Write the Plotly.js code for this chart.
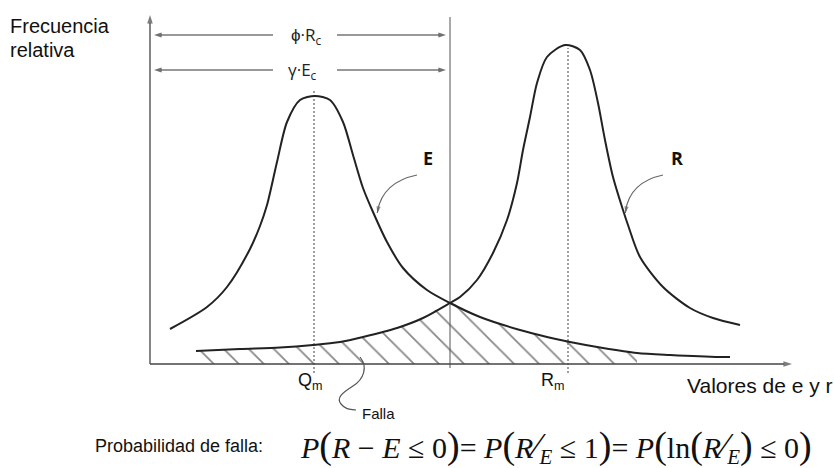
<!DOCTYPE html>
<html><head><meta charset="utf-8">
<script src="https://cdn.plot.ly/plotly-3.0.1.min.js"></script>
<style>html,body{margin:0;padding:0;background:#fff}#chart{width:834px;height:468px}</style>
</head><body><div id="chart"></div>
<script>
// Curve E (solicitación)
const eX = [20,57,77,100,110,117,127,137,150,165,180,193,203,213,223,237,253,277,300,330,370,397,420,453,487,520,570,580];
const eY = [35,57,77,115,138,159,202,242,264,268,264,242,209,176,152,122,96,74,61,47,34,27,22,16,11,9,7,7];
// Curve R (resistencia)
const rX = [46,90,130,163,190,213,247,273,300,310,327,343,357,367,373,380,387,397,415,430,440,448,455,463,473,478,490,513,540,563,590];
const rY = [13,15,16.5,19,22,27,36,46,61,67,84,111,144,181,214,247,281,307,319,314,294,261,224,187,154,139,107,77,56,46,39];
// Characteristic values
const qm = 164, rm = 418, rc = 300, hatchEnd = 487;
const tickVals = [qm, rm];
const tickLabels = ['Q<sub>m</sub>', 'R<sub>m</sub>'];
const dimLabels = ['ϕ·R<sub>c</sub>', 'γ·E<sub>c</sub>'];

// failure region = lower envelope of both curves
const hx = [], hy = [];
rX.forEach((x, i) => { if (x <= rc) { hx.push(x); hy.push(rY[i]); } });
eX.forEach((x, i) => { if (x > rc && x <= hatchEnd) { hx.push(x); hy.push(eY[i]); } });

const dark = '#222';
const traces = [
  {x: hx, y: hy, mode: 'lines', line: {width: 0, shape: 'spline', smoothing: 0.8},
   fill: 'tozeroy', fillcolor: 'rgba(0,0,0,0)',
   fillpattern: {shape: '\\', size: 17.7, solidity: 0.1, fgcolor: '#111', bgcolor: 'rgba(0,0,0,0)', fillmode: 'overlay'}},
  {x: [qm, qm], y: [-9, 274], mode: 'lines', line: {color: '#777', width: 1.4, dash: '2px,2px'}},
  {x: [rm, rm], y: [-9, 316], mode: 'lines', line: {color: '#777', width: 1.4, dash: '2px,2px'}},
  {x: [rc, rc], y: [-4, 347], mode: 'lines', line: {color: '#555', width: 1}},
  {x: eX, y: eY, mode: 'lines', line: {color: dark, width: 2, shape: 'spline', smoothing: 0.8}},
  {x: rX, y: rY, mode: 'lines', line: {color: dark, width: 2, shape: 'spline', smoothing: 0.8}}
];
// arrows as line + arrow marker at the head
function arrow(x0, y0, x1, y1, color, w, size) {
  traces.push({x: [x0, x1], y: [y0, y1], mode: 'lines+markers', line: {color: color, width: w},
    marker: {symbol: 'arrow', angleref: 'previous', size: [0, size], color: color, line: {width: 0}}});
}
// axes
arrow(0, 0, 642, 0, '#444', 1.3, 9);
arrow(0, 0, 0, 349, '#444', 1.3, 9);
// dimension lines
const dimY = [329, 294], dimX = [156, 152];
dimY.forEach(y => { arrow(123, y, 4, y, '#333', 1.1, 8); arrow(187, y, rc - 4, y, '#333', 1.1, 8); });
// curved pointer heads
arrow(228.3, 156, 227.3, 151, '#666', 1.2, 7);
arrow(476.3, 156, 475.3, 151, '#666', 1.2, 7);

const sans = 'Liberation Sans, Arial, sans-serif';
const ann = [];
function txt(x, y, text, size, opts) {
  ann.push(Object.assign({x: x, y: y, xref: 'x', yref: 'y', text: text, showarrow: false,
    font: {family: sans, size: size, color: '#111'}}, opts || {}));
}
dimY.forEach((y, i) => txt(dimX[i], y, dimLabels[i], 17, {font: {family: 'Open Sans, sans-serif', size: 17, color: '#222'}}));
// curve labels
txt(278, 206, '<b>E</b>', 18, {font: {family: 'Open Sans, sans-serif', size: 18, color: '#111'}});
txt(527, 206, '<b>R</b>', 18, {font: {family: 'Open Sans, sans-serif', size: 18, color: '#111'}});
// tick labels
tickVals.forEach((v, i) => txt(v, -17, tickLabels[i], 18, {xshift: i === 0 ? -4 : -15}));
// axis texts
txt(-142, 338, 'Frecuencia', 20, {xanchor: 'left'});
txt(-142, 314, 'relativa', 20, {xanchor: 'left'});
txt(535, -21, 'Valores de e y r', 21, {xanchor: 'left'});
txt(210, -49, 'Falla', 15, {xanchor: 'left'});
txt(-57, -82, 'Probabilidad de falla:', 18, {xanchor: 'left'});
const big = s => '<span style="font-size:38px">' + s + '</span>';
const frac = '<i>R</i><span style="font-size:36px">⁄</span><sub><i>E</i></sub>';
const formula = '<i>P</i>' + big('(') + '<i>R</i> − <i>E</i> ≤ 0' + big(')') + '= <i>P</i>' + big('(') +
  frac + ' ≤ 1' + big(')') + '= <i>P</i>' + big('(') + 'ln' + big('(') + frac + big(')') + ' ≤ 0' + big(')');
txt(148, -82, formula, 30, {xanchor: 'left', font: {family: 'Liberation Serif, Times New Roman, serif', size: 30, color: '#111'}});

const shapes = [
  {type: 'path', xref: 'x', yref: 'y', path: 'M 267 189 Q 233 182 227.5 153', line: {color: '#666', width: 1.2}},
  {type: 'path', xref: 'x', yref: 'y', path: 'M 513 189 Q 480 182 475.5 153', line: {color: '#666', width: 1.2}},
  {type: 'path', xref: 'x', yref: 'y', path: 'M 210 7 C 218 -3 214 -15 203 -22 S 186 -34 191 -40 S 200 -45 206 -46', line: {color: '#555', width: 1.2}}
];

const layout = {
  width: 834, height: 468, margin: {l: 0, r: 0, t: 0, b: 0},
  paper_bgcolor: '#fff', plot_bgcolor: '#fff', showlegend: false,
  xaxis: {range: [-150, 684], visible: false, fixedrange: true},
  yaxis: {range: [-104, 364], visible: false, fixedrange: true},
  annotations: ann, shapes: shapes
};
Plotly.newPlot('chart', traces, layout, {staticPlot: true, displayModeBar: false});
</script></body></html>
